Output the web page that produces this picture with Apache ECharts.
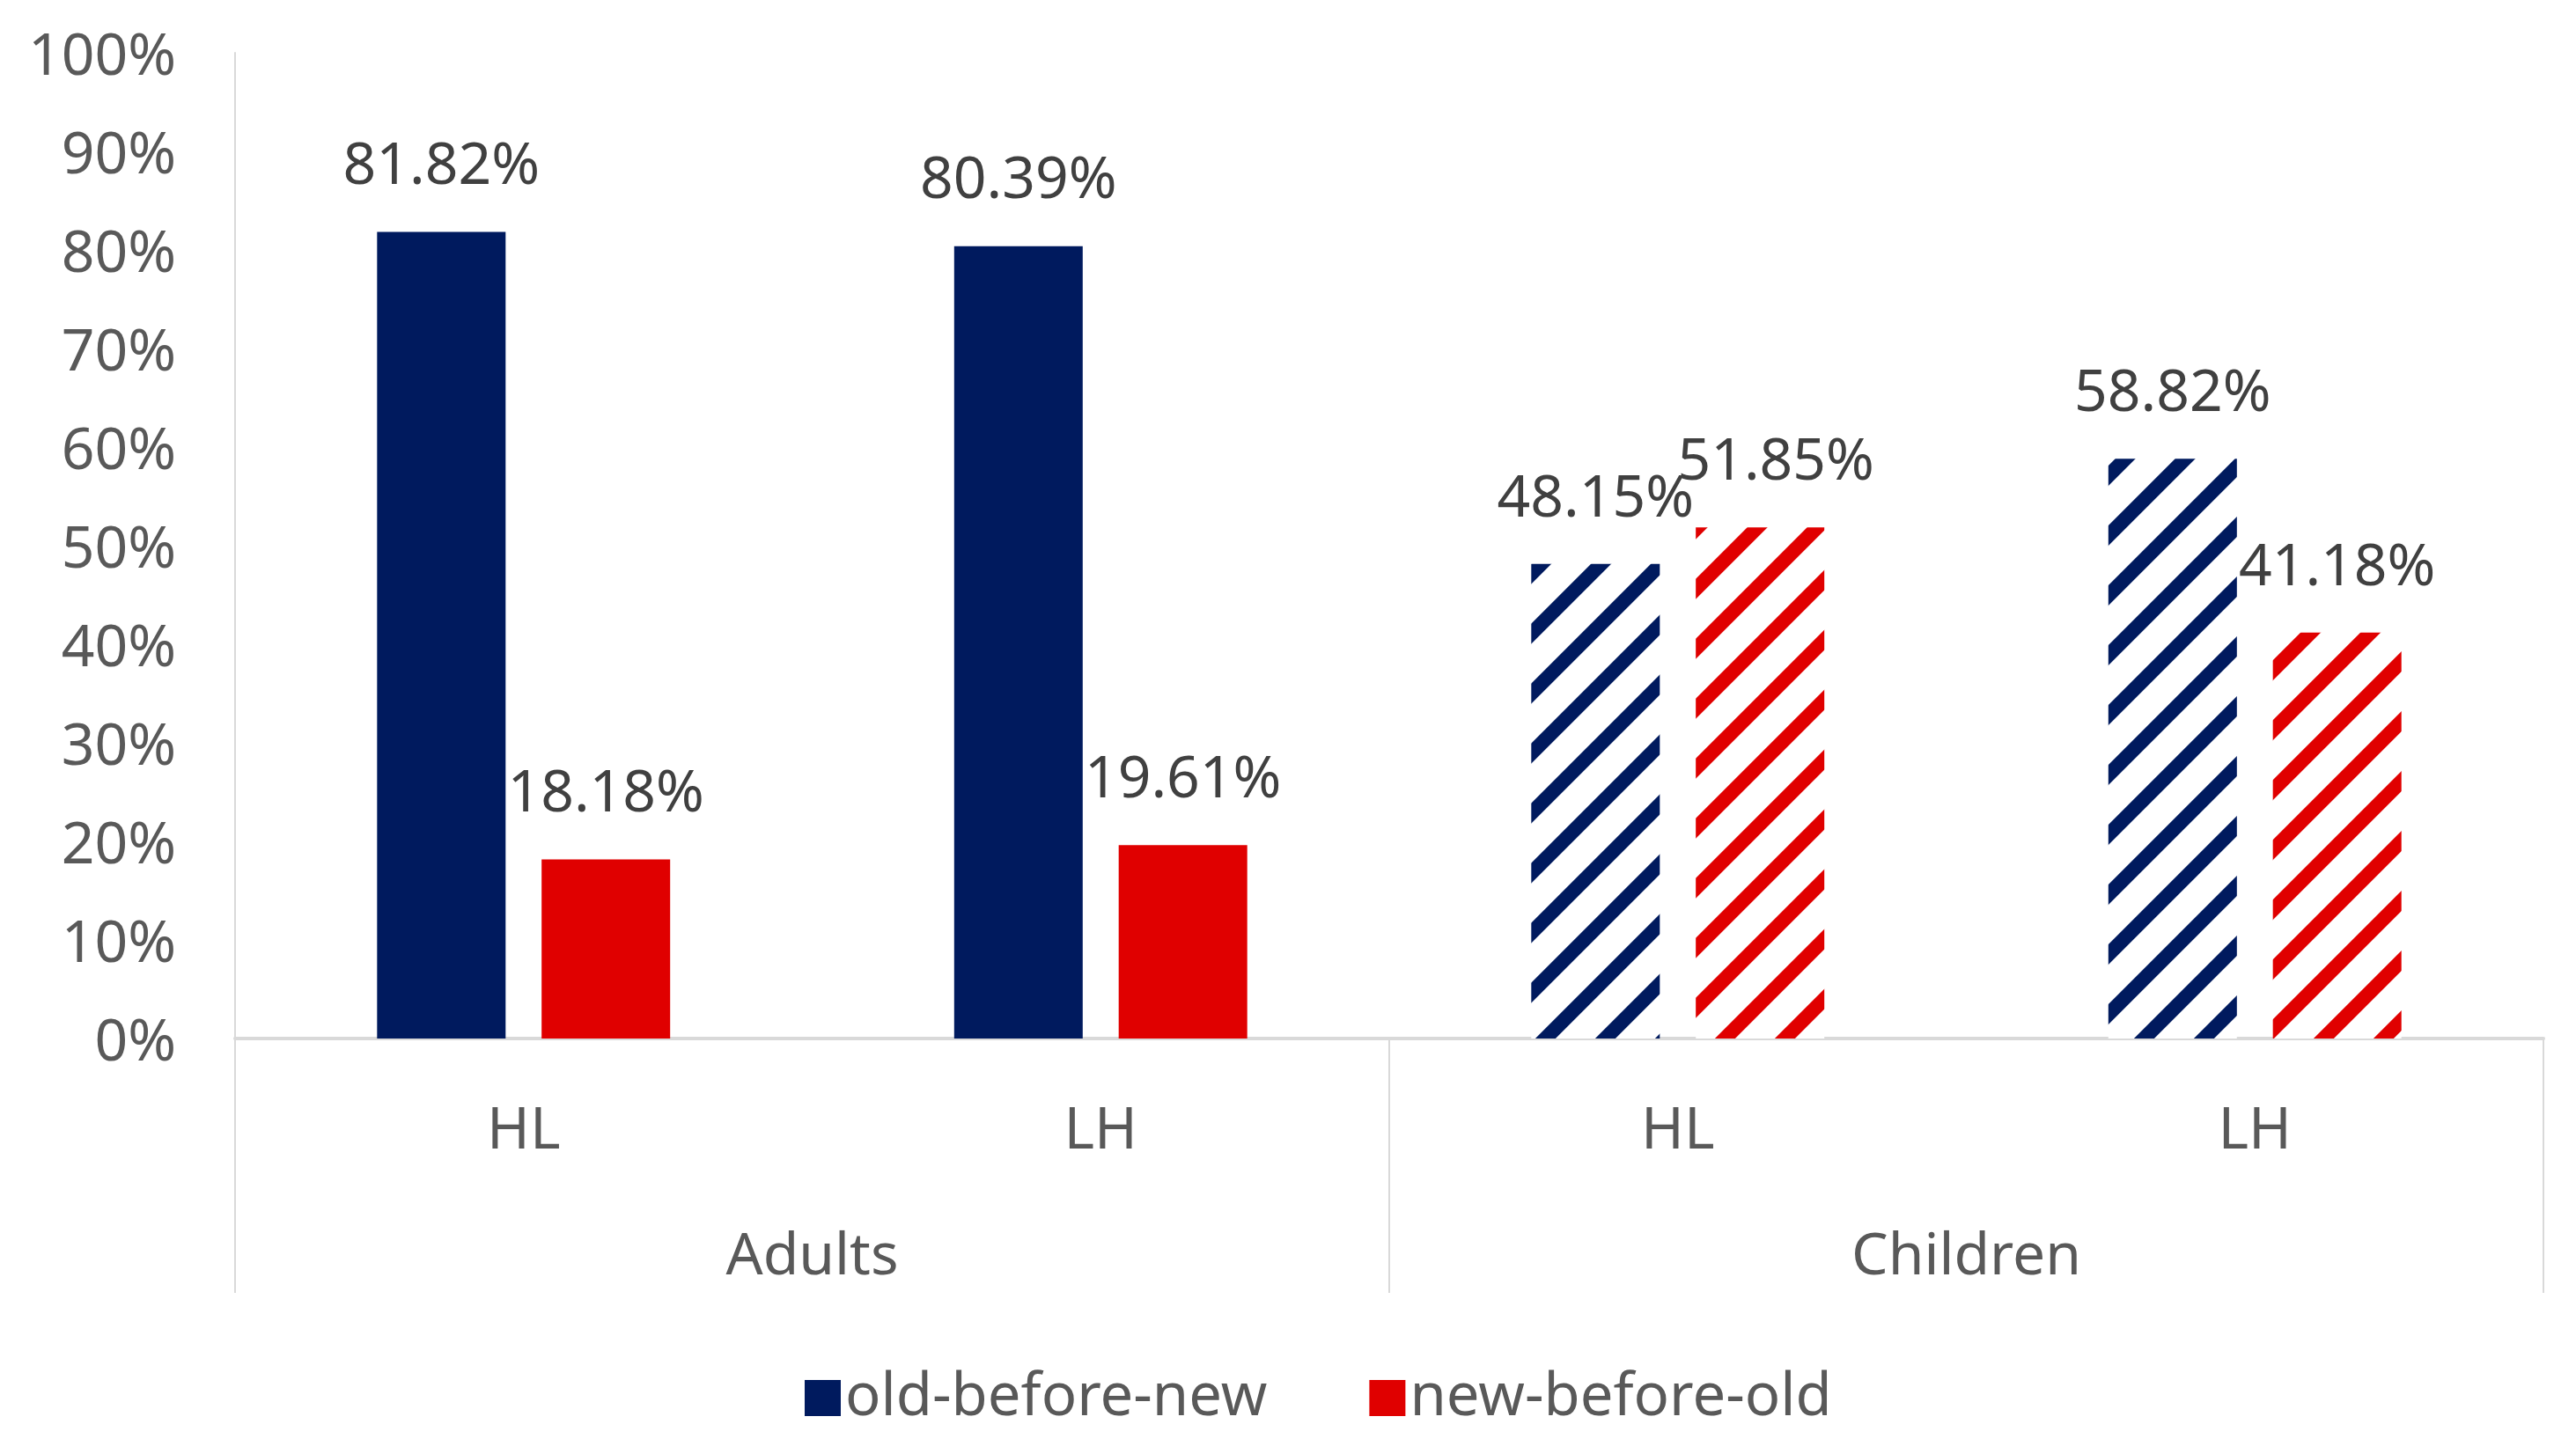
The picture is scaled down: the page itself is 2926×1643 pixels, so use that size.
<!DOCTYPE html>
<html>
<head>
<meta charset="utf-8">
<script src="https://cdn.jsdelivr.net/npm/echarts@6/dist/echarts.min.js"></script>
<style>
html,body{margin:0;padding:0;background:#fff;}
#c{width:2926px;height:1643px;}
</style>
</head>
<body>
<div id="c"></div>
<script>
const subCategories = ['HL', 'LH', 'HL', 'LH'];
const groups = ['Adults', 'Children'];
const seriesNames = ['old-before-new', 'new-before-old'];
const oldBeforeNew = [81.82, 80.39, 48.15, 58.82];
const newBeforeOld = [18.18, 19.61, 51.85, 41.18];
const hatched = [false, false, true, true];
const yTicks = [0, 10, 20, 30, 40, 50, 60, 70, 80, 90, 100];

const BLUE = '#001A5E';
const RED = '#E00000';
const FONT = 'Noto Sans';
const FS = 66;

function stripePattern(color) {
  const P = 68, T = 23, SS = 4;
  const cv = document.createElement('canvas');
  cv.width = P; cv.height = P;
  const ctx = cv.getContext('2d');
  const img = ctx.createImageData(P, P);
  const r = parseInt(color.slice(1,3),16), g = parseInt(color.slice(3,5),16), b = parseInt(color.slice(5,7),16);
  for (let y = 0; y < P; y++) {
    for (let x = 0; x < P; x++) {
      let cov = 0;
      for (let sy = 0; sy < SS; sy++) for (let sx = 0; sx < SS; sx++) {
        const d = ((x + (sx + 0.5) / SS) + (y + (sy + 0.5) / SS)) % P;
        if (d < T) cov++;
      }
      const a = cov / (SS * SS);
      const i = (y * P + x) * 4;
      img.data[i] = Math.round(255 + (r - 255) * a);
      img.data[i+1] = Math.round(255 + (g - 255) * a);
      img.data[i+2] = Math.round(255 + (b - 255) * a);
      img.data[i+3] = 255;
    }
  }
  ctx.putImageData(img, 0, 0);
  return { image: cv, repeat: 'repeat' };
}

const bluePat = stripePattern(BLUE);
const redPat = stripePattern(RED);

function buildData(vals, pat, offsets) {
  return vals.map((v, i) => {
    const item = { value: v };
    if (hatched[i]) item.itemStyle = { color: pat };
    if (offsets && offsets[i]) item.label = { offset: offsets[i] };
    return item;
  });
}

const labelStyle = {
  show: true,
  position: 'top',
  distance: 40,
  fontFamily: FONT,
  fontSize: FS,
  lineHeight: 66,
  color: '#404040',
  formatter: p => p.value.toFixed(2) + '%'
};

const chart = echarts.init(document.getElementById('c'));
chart.setOption({
  animation: false,
  backgroundColor: '#ffffff',
  textStyle: { fontFamily: FONT },
  grid: { left: 267, right: 37, top: 60, bottom: 463, containLabel: false },
  legend: {
    data: seriesNames,
    left: 914,
    top: 1555,
    padding: 0,
    icon: 'rect',
    itemWidth: 41,
    itemHeight: 41,
    itemGap: 116,
    textStyle: { fontFamily: FONT, fontSize: 67, color: '#595959' }
  },
  xAxis: [
    {
      type: 'category',
      data: subCategories,
      position: 'bottom',
      axisLine: { show: true, lineStyle: { color: '#D9D9D9', width: 4 } },
      axisTick: { show: false },
      axisLabel: { margin: 73, fontFamily: FONT, fontSize: FS, color: '#595959' },
      splitLine: { show: false }
    },
    {
      type: 'category',
      data: groups,
      position: 'bottom',
      axisLine: { show: false },
      axisTick: { show: true, length: 289, lineStyle: { color: '#D9D9D9', width: 2 } },
      axisLabel: { margin: 216, fontFamily: FONT, fontSize: FS, color: '#595959' },
      splitLine: { show: false }
    }
  ],
  yAxis: {
    type: 'value',
    min: yTicks[0],
    max: yTicks[yTicks.length - 1],
    interval: yTicks[1] - yTicks[0],
    axisLine: { show: true, lineStyle: { color: '#D9D9D9', width: 2 } },
    axisTick: { show: false },
    splitLine: { show: false },
    axisLabel: {
      margin: 67,
      formatter: '{t|{value}%}',
      rich: { t: { fontFamily: FONT, fontSize: FS, color: '#595959', padding: [12, 0, 0, 0] } }
    }
  },
  series: [
    {
      name: seriesNames[0],
      type: 'bar',
      xAxisIndex: 0,
      barWidth: 146,
      barGap: '28%',
      itemStyle: { color: BLUE },
      label: labelStyle,
      data: buildData(oldBeforeNew, bluePat)
    },
    {
      name: seriesNames[1],
      type: 'bar',
      xAxisIndex: 0,
      barWidth: 146,
      barGap: '28%',
      itemStyle: { color: RED },
      label: labelStyle,
      data: buildData(newBeforeOld, redPat, [null, null, [18, 0], null])
    }
  ]
});
</script>
</body>
</html>
